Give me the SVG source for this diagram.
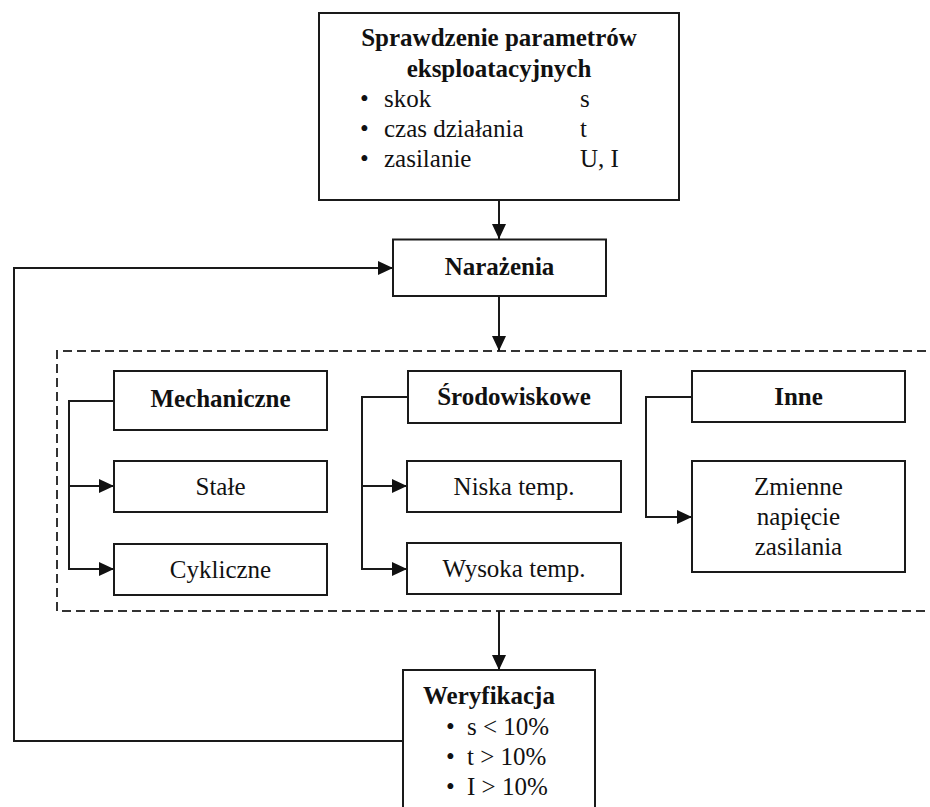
<svg xmlns="http://www.w3.org/2000/svg" width="930" height="807" viewBox="0 0 930 807">
<style>
  text { font-size: 25px; fill: #111; }
  .b { font-weight: bold; }
  .c { text-anchor: middle; }
  .box { fill: #fff; stroke: #1a1a1a; stroke-width: 2; }
  .ln { fill: none; stroke: #1a1a1a; stroke-width: 2; }
  .dash { fill: none; stroke: #333; stroke-width: 2; stroke-dasharray: 9 5; }
</style>
<defs>
  <marker id="ah" viewBox="0 0 15 14" refX="15" refY="7" markerWidth="15" markerHeight="14" markerUnits="userSpaceOnUse" orient="auto">
    <path d="M0,0 L15,7 L0,14 Z" fill="#111"/>
  </marker>
</defs>
<rect width="930" height="807" fill="#fff"/>
<g font-family="Liberation Serif, Times New Roman, serif">

<g id="group-box">
  <path class="dash" d="M940 351 H57 V611 H940"/>
</g>

<g id="connectors">
  <path class="ln" d="M499 200 V239" marker-end="url(#ah)"/>
  <path class="ln" d="M499 296 V351" marker-end="url(#ah)"/>
  <path class="ln" d="M499 611 V670" marker-end="url(#ah)"/>
  <path class="ln" d="M403 741 H14 V268 H393" marker-end="url(#ah)"/>
  <path class="ln" d="M114 401 H69 V569 H114" marker-end="url(#ah)"/>
  <path class="ln" d="M69 486 H114" marker-end="url(#ah)"/>
  <path class="ln" d="M408 397 H362 V569 H407" marker-end="url(#ah)"/>
  <path class="ln" d="M362 486 H407" marker-end="url(#ah)"/>
  <path class="ln" d="M692 397 H646 V517 H692" marker-end="url(#ah)"/>
</g>

<g id="sprawdzenie">
  <rect class="box" x="319" y="13" width="360" height="187"/>
  <text class="b c" x="499" y="46">Sprawdzenie parametrów</text>
  <text class="b c" x="499" y="76.5">eksploatacyjnych</text>
  <text x="360" y="106.5">•</text><text x="384" y="106.5">skok</text><text x="580" y="106.5">s</text>
  <text x="360" y="136.5">•</text><text x="384" y="136.5">czas działania</text><text x="580" y="136.5">t</text>
  <text x="360" y="166.5">•</text><text x="384" y="166.5">zasilanie</text><text x="580" y="166.5">U, I</text>
</g>

<g id="narazenia">
  <rect class="box" x="393" y="239.5" width="213" height="56.5"/>
  <text class="b c" x="499.5" y="275">Narażenia</text>
</g>

<g id="mechaniczne">
  <rect class="box" x="114" y="371" width="213" height="59"/>
  <text class="b c" x="220.5" y="406.5">Mechaniczne</text>
</g>
<g id="stale">
  <rect class="box" x="114" y="461" width="213" height="51"/>
  <text class="c" x="220.5" y="495">Stałe</text>
</g>
<g id="cykliczne">
  <rect class="box" x="114" y="544" width="213" height="51"/>
  <text class="c" x="220.5" y="578">Cykliczne</text>
</g>

<g id="srodowiskowe">
  <rect class="box" x="408" y="371" width="213" height="52"/>
  <text class="b c" x="514" y="405">Środowiskowe</text>
</g>
<g id="niska">
  <rect class="box" x="407" y="461" width="214" height="51"/>
  <text class="c" x="514" y="495">Niska temp.</text>
</g>
<g id="wysoka">
  <rect class="box" x="407" y="543" width="214" height="51"/>
  <text class="c" x="514" y="577">Wysoka temp.</text>
</g>

<g id="inne">
  <rect class="box" x="692" y="371" width="213" height="51"/>
  <text class="b c" x="798.5" y="404.5">Inne</text>
</g>
<g id="zmienne">
  <rect class="box" x="692" y="461" width="213" height="111"/>
  <text class="c" x="798.5" y="495">Zmienne</text>
  <text class="c" x="798.5" y="525">napięcie</text>
  <text class="c" x="798.5" y="555">zasilania</text>
</g>

<g id="weryfikacja">
  <rect class="box" x="403" y="670" width="192" height="160"/>
  <text class="b" x="423" y="704">Weryfikacja</text>
  <text x="446" y="735">•</text><text x="467" y="735">s &lt; 10%</text>
  <text x="446" y="765">•</text><text x="467" y="765">t &gt; 10%</text>
  <text x="446" y="795">•</text><text x="467" y="795">I &gt; 10%</text>
</g>
</g>
</svg>
